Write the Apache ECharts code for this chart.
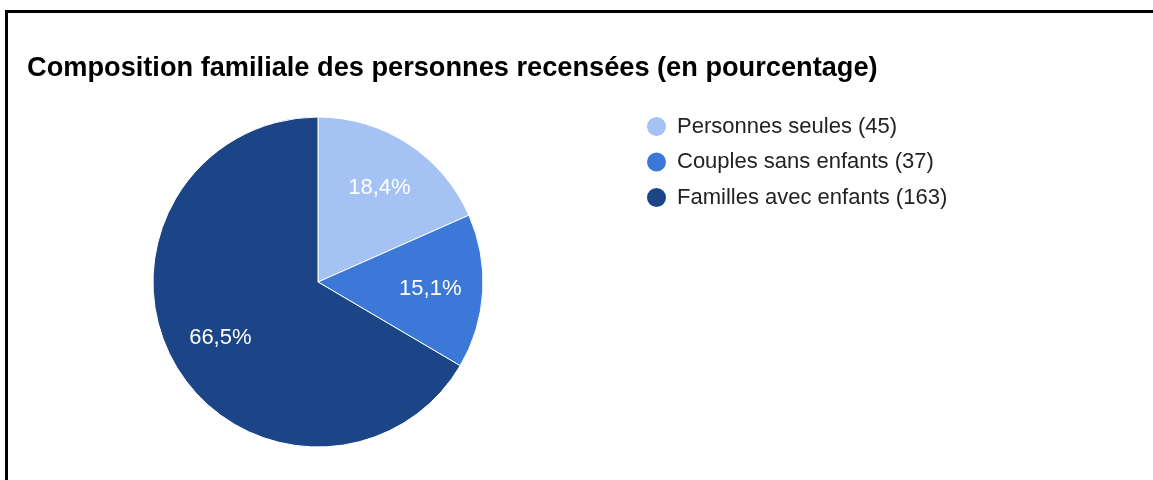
<!DOCTYPE html>
<html>
<head>
<meta charset="utf-8">
<script src="https://cdn.jsdelivr.net/npm/echarts@6/dist/echarts.min.js"></script>
<style>
html, body { margin: 0; padding: 0; background: #fff; }
#frame { position: absolute; left: 5px; top: 10px; width: 1200px; height: 500px; border-top: 3px solid #000; border-left: 3px solid #000; }
#chart { position: absolute; left: 0; top: 0; width: 1153px; height: 480px; }
</style>
</head>
<body>
<div id="frame"></div>
<div id="chart"></div>
<script>
const titleText = 'Composition familiale des personnes recensées (en pourcentage)';
const categories = ['Personnes seules', 'Couples sans enfants', 'Familles avec enfants'];
const values = [45, 37, 163];
const colors = ['#a4c2f4', '#3c78d8', '#1c4587'];

const total = values.reduce((a, b) => a + b, 0);
const data = categories.map((c, i) => ({ name: c, value: values[i], itemStyle: { color: colors[i] } }));

const chart = echarts.init(document.getElementById('chart'), null, { renderer: 'canvas' });
chart.setOption({
  backgroundColor: 'transparent',
  animation: false,
  title: {
    text: titleText,
    left: 27, top: 55, padding: 0,
    textStyle: { fontFamily: 'Liberation Sans, Arial, sans-serif', fontSize: 27.2, fontWeight: 'bold', color: '#000' }
  },
  legend: {
    orient: 'vertical',
    left: 645, top: 115, padding: 0,
    itemWidth: 21, itemHeight: 21, itemGap: 12.5,
    icon: 'circle',
    data: categories,
    formatter: function (name) {
      const i = categories.indexOf(name);
      return name + ' (' + values[i] + ')';
    },
    textStyle: { fontFamily: 'Liberation Sans, Arial, sans-serif', fontSize: 22, color: '#222', padding: [0, 0, 0, 5] }
  },
  series: [
    {
      type: 'pie',
      center: [318, 282],
      radius: 165,
      startAngle: 90,
      clockwise: true,
      data: data,
      label: { show: false },
      labelLine: { show: false },
      itemStyle: { borderColor: '#fff', borderWidth: 1 },
      emphasis: { disabled: true }
    },
    {
      type: 'pie',
      center: [318, 282],
      radius: [54, 165],
      startAngle: 90,
      clockwise: true,
      silent: true,
      legendHoverLink: false,
      data: data.map(d => ({ name: d.name, value: d.value, itemStyle: { color: 'rgba(0,0,0,0)' } })),
      label: {
        show: true,
        position: 'inside',
        formatter: function (p) {
          return (p.value / total * 100).toFixed(1).replace('.', ',') + '%';
        },
        color: '#fff',
        fontFamily: 'Liberation Sans, Arial, sans-serif',
        fontSize: 22
      },
      labelLine: { show: false },
      itemStyle: { borderWidth: 0 },
      emphasis: { disabled: true }
    }
  ]
});
</script>
</body>
</html>
